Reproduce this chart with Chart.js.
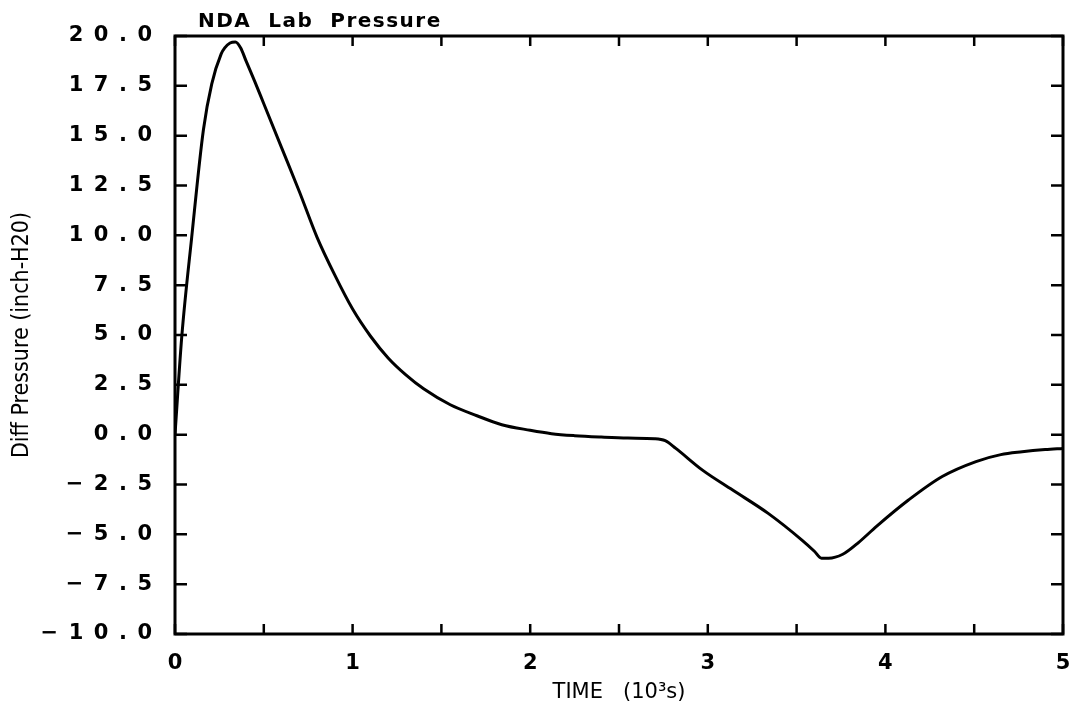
<!DOCTYPE html>
<html>
<head>
<meta charset="utf-8">
<title>NDA Lab Pressure</title>
<script src="https://cdn.jsdelivr.net/npm/chart.js@4"></script>
<style>
  html, body { margin: 0; padding: 0; background: #fff; }
  #wrap { width: 1071px; height: 724px; }
</style>
</head>
<body>
<div id="wrap"><canvas id="pressureChart" width="1071" height="724"></canvas></div>
<script>
// Diff pressure vs time
const timeVals = [0, 0.038, 0.094, 0.16, 0.207, 0.26, 0.28, 0.31, 0.34, 0.37, 0.40, 0.45, 0.50, 0.60,
    0.70, 0.80, 0.90, 1.00, 1.10, 1.20, 1.30, 1.40, 1.55, 1.70, 1.84, 2.00, 2.12, 2.25, 2.40, 2.55,
    2.70, 2.76, 2.82, 2.97, 3.14, 3.34, 3.53, 3.60, 3.64, 3.68, 3.76, 3.85, 3.95, 4.13, 4.32, 4.51,
    4.65, 4.77, 4.90, 5.0];
const pressureVals = [0, 4.9, 9.9, 15.3, 17.6, 19.1, 19.4, 19.65, 19.7, 19.4, 18.75, 17.7, 16.6, 14.4,
    12.2, 9.9, 8.0, 6.3, 4.95, 3.85, 3.0, 2.3, 1.5, 0.95, 0.5, 0.22, 0.05, -0.05, -0.12, -0.17,
    -0.2, -0.3, -0.69, -1.78, -2.78, -3.95, -5.29, -5.85, -6.2, -6.2, -6.0, -5.4, -4.6, -3.28, -2.1, -1.35,
    -1.0, -0.86, -0.75, -0.69];

const xTicks = [0, 0.5, 1, 1.5, 2, 2.5, 3, 3.5, 4, 4.5, 5];
const yTicks = [-10, -7.5, -5, -2.5, 0, 2.5, 5, 7.5, 10, 12.5, 15, 17.5, 20];

const titleText = 'NDA  Lab  Pressure';
const xTitle = 'TIME   (10\u00B3s)';
const yTitle = 'Diff Pressure (inch-H20)';

const EN = '\u2002';
const tickFont = { family: "'DejaVu Sans'", size: 21, weight: 'bold' };

// spaced-out plotter style numbers, e.g. "2 0 . 0"
function spaced(v) {
    return v.toFixed(1).replace('-', '\u2212').split('').join(EN);
}

// frame + inward tick marks on all four sides
const framePlugin = {
    id: 'frame',
    afterDraw(chart) {
        const { ctx, chartArea: a, scales: { x, y } } = chart;
        ctx.save();
        ctx.strokeStyle = '#000';
        ctx.lineWidth = 3;
        ctx.strokeRect(a.left, a.top, a.right - a.left, a.bottom - a.top);

        ctx.lineWidth = 2.5;
        ctx.beginPath();
        xTicks.forEach(t => {
            const px = x.getPixelForValue(t);
            ctx.moveTo(px, a.bottom); ctx.lineTo(px, a.bottom - 10);
            ctx.moveTo(px, a.top); ctx.lineTo(px, a.top + 10);
        });
        yTicks.forEach(t => {
            const py = y.getPixelForValue(t);
            ctx.moveTo(a.left, py); ctx.lineTo(a.left + 12, py);
            ctx.moveTo(a.right, py); ctx.lineTo(a.right - 12, py);
        });
        ctx.stroke();

        // title sits just above the frame, left side
        ctx.fillStyle = '#000';
        ctx.font = "bold 20px 'DejaVu Sans'";
        ctx.letterSpacing = '1.5px';
        ctx.textBaseline = 'alphabetic';
        ctx.textAlign = 'left';
        ctx.fillText(titleText, 198, 27);
        ctx.restore();
    }
};

const ctx = document.getElementById('pressureChart').getContext('2d');
new Chart(ctx, {
    type: 'line',
    data: {
        labels: timeVals,
        datasets: [{
            data: timeVals.map((t, i) => ({ x: t, y: pressureVals[i] })),
            borderColor: '#000',
            borderWidth: 3,
            pointRadius: 0,
            fill: false,
            cubicInterpolationMode: 'monotone'
        }]
    },
    options: {
        responsive: false,
        animation: false,
        layout: { padding: { left: 0, top: 36, right: 8, bottom: 0 } },
        plugins: {
            legend: { display: false },
            tooltip: { enabled: false }
        },
        scales: {
            x: {
                type: 'linear',
                min: 0, max: 5,
                afterBuildTicks: s => { s.ticks = xTicks.map(v => ({ value: v })); },
                afterFit: s => { s.height = 90; s.paddingRight = 0; s.paddingLeft = 0; },
                grid: { display: false, drawTicks: false },
                border: { display: false },
                ticks: {
                    color: '#000',
                    font: tickFont,
                    padding: 17,
                    maxRotation: 0,
                    autoSkip: false,
                    callback: v => Number.isInteger(v) ? String(v) : ''
                },
                title: {
                    display: true,
                    text: xTitle,
                    color: '#000',
                    font: { family: "'DejaVu Sans'", size: 21 },
                    padding: { top: 0, bottom: 19 }
                }
            },
            y: {
                min: -10, max: 20,
                afterBuildTicks: s => { s.ticks = yTicks.map(v => ({ value: v })); },
                afterFit: s => { s.width = 175; },
                grid: { display: false, drawTicks: false },
                border: { display: false },
                ticks: {
                    color: '#000',
                    font: tickFont,
                    padding: 23,
                    autoSkip: false,
                    callback: v => spaced(v)
                },
                title: {
                    display: true,
                    text: yTitle,
                    color: '#000',
                    font: { family: "'DejaVu Sans Condensed', 'DejaVu Sans'", size: 23 },
                    padding: { top: 8, bottom: 0 }
                }
            }
        }
    },
    plugins: [framePlugin]
});
</script>
</body>
</html>
